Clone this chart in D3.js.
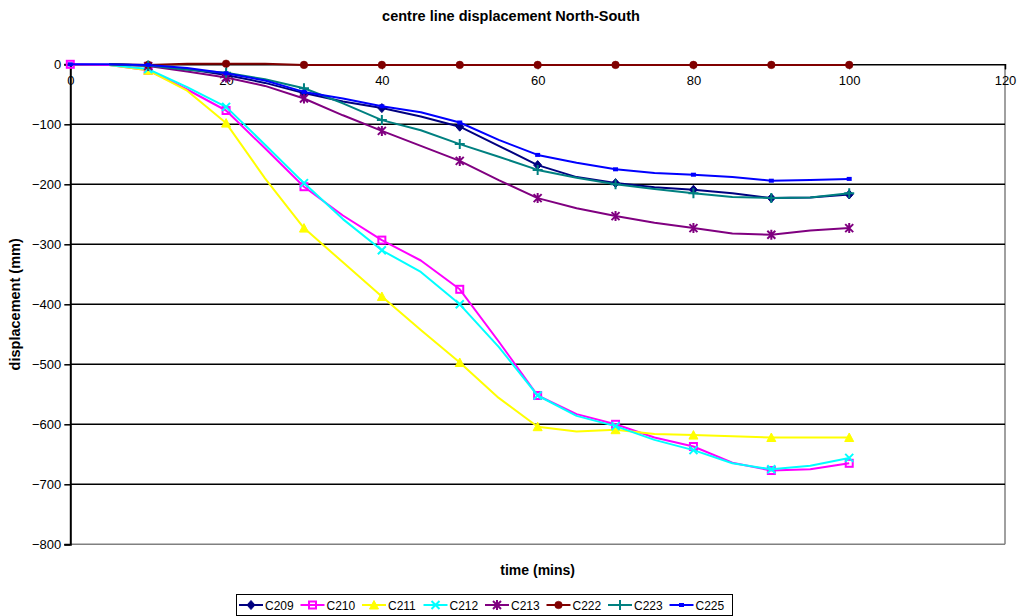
<!DOCTYPE html>
<html>
<head>
<meta charset="utf-8">
<script src="https://cdn.jsdelivr.net/npm/d3@7/dist/d3.min.js"></script>
<style>
  html, body { margin: 0; padding: 0; background: #fff; }
  svg { display: block; font-family: "Liberation Sans", Arial, sans-serif; }
</style>
</head>
<body>
<svg id="chart" width="1021" height="616"></svg>
<script>
// Readings every 5 minutes; null where a gauge has no reading.
const minutes = [0, 5, 10, 15, 20, 25, 30, 35, 40, 45, 50, 55, 60, 65, 70, 75, 80, 85, 90, 95, 100];

const c209 = [null, 0, -2, -8, -18, -31, -48, -62, -73, -87, -104, -136, -168, -188, -198, -205, -209, -215, -223, -222, -217];
const c210 = [0, -1, -10, -42, -77, -140, -204, -252, -293, -327, -375, -462, -552, -583, -600, -622, -637, -664, -677, -675, -665];
const c211 = [null, -1, -10, -44, -98, -190, -273, -330, -387, -443, -497, -556, -604, -612, -609, -616, -618, -620, -622, -622, -622];
const c212 = [null, -1, -8, -38, -71, -134, -198, -258, -310, -346, -400, -471, -552, -586, -603, -626, -643, -665, -675, -669, -656];
const c213 = [null, 0, -3, -12, -22, -36, -57, -85, -111, -136, -161, -193, -223, -240, -253, -264, -273, -282, -284, -277, -273];
const c222 = [null, 0, -1, 1, 1, 1, -1, -1, -1, -1, -1, -1, -1, -1, -1, -1, -1, -1, -1, -1, -1];
const c223 = [null, 0, -2, -9, -14, -25, -40, -65, -93, -110, -133, -154, -176, -189, -200, -208, -215, -221, -223, -222, -215];
const c225 = [0, 0, -1, -6, -15, -27, -46, -57, -70, -80, -97, -126, -151, -164, -175, -181, -184, -188, -194, -193, -191];

const seriesNames = ["C209", "C210", "C211", "C212", "C213", "C222", "C223", "C225"];
const seriesValues = [c209, c210, c211, c212, c213, c222, c223, c225];
const seriesColors = ["#000080", "#ff00ff", "#ffff00", "#00ffff", "#800080", "#800000", "#008080", "#0000ff"];
const seriesMarkers = ["diamond", "square", "triangle", "cross", "star", "circle", "plus", "dash"];

const xTicks = [0, 20, 40, 60, 80, 100, 120];
const yTicks = [0, -100, -200, -300, -400, -500, -600, -700, -800];

const svg = d3.select("#chart");
const plot = { left: 70.3, right: 1005, top: 64.3, bottom: 544.3 };

const x = d3.scaleLinear().domain([0, 120]).range([plot.left, plot.right]);
const y = d3.scaleLinear().domain([-800, 0]).range([plot.bottom, plot.top]);

// Title
svg.append("text")
  .attr("x", 511).attr("y", 21)
  .attr("text-anchor", "middle")
  .attr("font-size", 14.5).attr("font-weight", "bold")
  .text("centre line displacement North-South");

// Plot frame: grey right and bottom edges
svg.append("line").attr("x1", x(120)).attr("x2", x(120)).attr("y1", y(0)).attr("y2", y(-800))
  .attr("stroke", "#808080").attr("stroke-width", 1.5);
svg.append("line").attr("x1", x(0)).attr("x2", x(120)).attr("y1", y(-800)).attr("y2", y(-800))
  .attr("stroke", "#808080").attr("stroke-width", 1.5);

// Horizontal gridlines
svg.append("g").selectAll("line")
  .data(yTicks.filter(v => v !== 0 && v !== -800))
  .join("line")
  .attr("x1", x(0)).attr("x2", x(120))
  .attr("y1", d => y(d)).attr("y2", d => y(d))
  .attr("stroke", "#000").attr("stroke-width", 1.5);

// Y axis on the left
const yAxis = d3.axisLeft(y).tickValues(yTicks).tickSize(6).tickPadding(3).tickFormat(d3.format("d"));
const gy = svg.append("g").attr("transform", `translate(${plot.left},0)`).call(yAxis);
gy.select(".domain").attr("stroke", "#000").attr("stroke-width", 2);
gy.selectAll(".tick line").attr("stroke", "#000").attr("stroke-width", 1.5);
gy.selectAll(".tick text").attr("font-size", 13).attr("fill", "#000")
  .attr("font-family", "'Liberation Sans', Arial, sans-serif");

// X axis crosses at zero, labels below it
const xAxis = d3.axisBottom(x).tickValues(xTicks).tickSize(5).tickPadding(6).tickFormat(d3.format("d"));
const gx = svg.append("g").attr("transform", `translate(0,${y(0)})`).call(xAxis);
gx.select(".domain").attr("stroke", "#000").attr("stroke-width", 1.5);
gx.selectAll(".tick line").attr("stroke", "#000").attr("stroke-width", 1);
gx.selectAll(".tick text").attr("font-size", 13).attr("fill", "#000")
  .attr("font-family", "'Liberation Sans', Arial, sans-serif");

// Axis titles
svg.append("text")
  .attr("transform", `translate(20,${(plot.top + plot.bottom) / 2}) rotate(-90)`)
  .attr("text-anchor", "middle")
  .attr("font-size", 14.5).attr("font-weight", "bold")
  .text("displacement (mm)");
svg.append("text")
  .attr("x", (plot.left + plot.right) / 2).attr("y", 575)
  .attr("text-anchor", "middle")
  .attr("font-size", 14).attr("font-weight", "bold")
  .text("time (mins)");

// Marker shapes
function drawMarker(g, type, color, cx, cy) {
  const s = 4;
  if (type === "diamond") {
    g.append("path").attr("d", `M${cx},${cy - s - 0.5}L${cx + s},${cy}L${cx},${cy + s + 0.5}L${cx - s},${cy}Z`)
      .attr("fill", color).attr("stroke", color).attr("stroke-width", 1);
  } else if (type === "square") {
    g.append("rect").attr("x", cx - 3.5).attr("y", cy - 3.5).attr("width", 7).attr("height", 7)
      .attr("fill", "none").attr("stroke", color).attr("stroke-width", 2);
  } else if (type === "triangle") {
    g.append("path").attr("d", `M${cx},${cy - s - 0.5}L${cx + s + 0.5},${cy + s}L${cx - s - 0.5},${cy + s}Z`)
      .attr("fill", color).attr("stroke", color).attr("stroke-width", 1);
  } else if (type === "cross") {
    g.append("path").attr("d", `M${cx - s},${cy - s}L${cx + s},${cy + s}M${cx - s},${cy + s}L${cx + s},${cy - s}`)
      .attr("stroke", color).attr("stroke-width", 2).attr("fill", "none");
  } else if (type === "star") {
    g.append("path").attr("d", `M${cx - s},${cy - s}L${cx + s},${cy + s}M${cx - s},${cy + s}L${cx + s},${cy - s}M${cx},${cy - s - 1}L${cx},${cy + s + 1}`)
      .attr("stroke", color).attr("stroke-width", 2).attr("fill", "none");
  } else if (type === "circle") {
    g.append("circle").attr("cx", cx).attr("cy", cy).attr("r", 3.8)
      .attr("fill", color).attr("stroke", color).attr("stroke-width", 0.5);
  } else if (type === "plus") {
    g.append("path").attr("d", `M${cx - s - 1},${cy}L${cx + s + 1},${cy}M${cx},${cy - s - 1}L${cx},${cy + s + 1}`)
      .attr("stroke", color).attr("stroke-width", 2).attr("fill", "none");
  } else if (type === "dash") {
    g.append("rect").attr("x", cx - 2.5).attr("y", cy - 2).attr("width", 5).attr("height", 4)
      .attr("fill", color);
  }
}

const line = d3.line()
  .defined(d => d.v !== null)
  .x(d => x(d.t))
  .y(d => y(d.v));

const series = seriesNames.map((name, i) => ({
  name,
  color: seriesColors[i],
  marker: seriesMarkers[i],
  points: minutes.map((t, j) => ({ t, v: seriesValues[i][j] }))
}));

const plotG = svg.append("g");
series.forEach(s => {
  const g = plotG.append("g");
  g.append("path")
    .datum(s.points)
    .attr("d", line)
    .attr("fill", "none")
    .attr("stroke", s.color)
    .attr("stroke-width", 2)
    .attr("stroke-linejoin", "round");
  s.points.filter(p => p.v !== null && p.t % 10 === 0)
    .forEach(p => drawMarker(g, s.marker, s.color, x(p.t), y(p.v)));
});

// Legend
const legend = { left: 236, top: 594, width: 496, height: 21, step: 61.5 };
svg.append("rect")
  .attr("x", legend.left + 0.5).attr("y", legend.top + 0.5)
  .attr("width", legend.width).attr("height", legend.height)
  .attr("fill", "#fff").attr("stroke", "#000").attr("stroke-width", 1);
series.forEach((s, i) => {
  const g = svg.append("g");
  const x0 = legend.left + 3 + i * legend.step;
  const cy = legend.top + 11;
  g.append("line").attr("x1", x0).attr("x2", x0 + 24).attr("y1", cy).attr("y2", cy)
    .attr("stroke", s.color).attr("stroke-width", 2);
  drawMarker(g, s.marker, s.color, x0 + 12, cy);
  g.append("text").attr("x", x0 + 26).attr("y", cy + 4.5)
    .attr("font-size", 12).attr("fill", "#000")
    .text(s.name);
});
</script>
</body>
</html>
